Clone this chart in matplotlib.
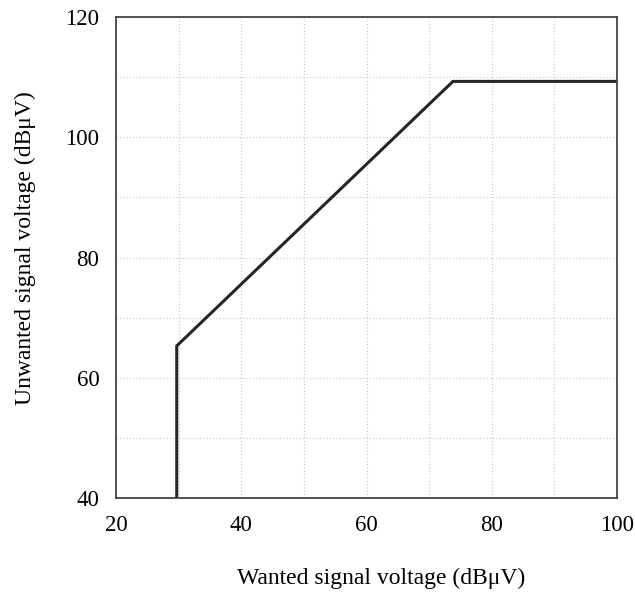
import matplotlib
matplotlib.use("Agg")
import matplotlib.pyplot as plt

# Curve vertices
wanted = [29.7, 29.7, 73.8, 100]
unwanted = [40, 65.3, 109.3, 109.3]

x_ticks = [20, 40, 60, 80, 100]
y_ticks = [40, 60, 80, 100, 120]

plt.rcParams["font.family"] = ["Liberation Serif", "DejaVu Serif"]

fig = plt.figure(figsize=(6.35, 5.93), dpi=100)
ax = fig.add_axes([0.1827, 0.1602, 0.789, 0.811])

ax.plot(wanted, unwanted, color="#262626", linewidth=2.2, solid_joinstyle="miter")

ax.set_xlim(20, 100)
ax.set_ylim(40, 120)
ax.set_xticks(x_ticks)
ax.set_yticks(y_ticks)
ax.set_xticks(range(20, 101, 10), minor=True)
ax.set_yticks(range(40, 121, 10), minor=True)
ax.grid(which="both", linestyle=(0, (1, 2)), color="#c8c8c8", linewidth=0.8)
ax.tick_params(which="both", length=0, labelsize=16.5)
ax.tick_params(axis="x", pad=12)
ax.tick_params(axis="y", pad=12)

for s in ax.spines.values():
    s.set_color("#444444")
    s.set_linewidth(1.3)

ax.set_xlabel("Wanted signal voltage (dBμV)", fontsize=17)
ax.set_ylabel("Unwanted signal voltage (dBμV)", fontsize=17)
ax.xaxis.set_label_coords(0.529, -0.168)
ax.xaxis.label.set_va("center")
ax.yaxis.set_label_coords(-0.18, 0.52)
ax.yaxis.label.set_va("center")

fig.savefig("out.png", dpi=100)
